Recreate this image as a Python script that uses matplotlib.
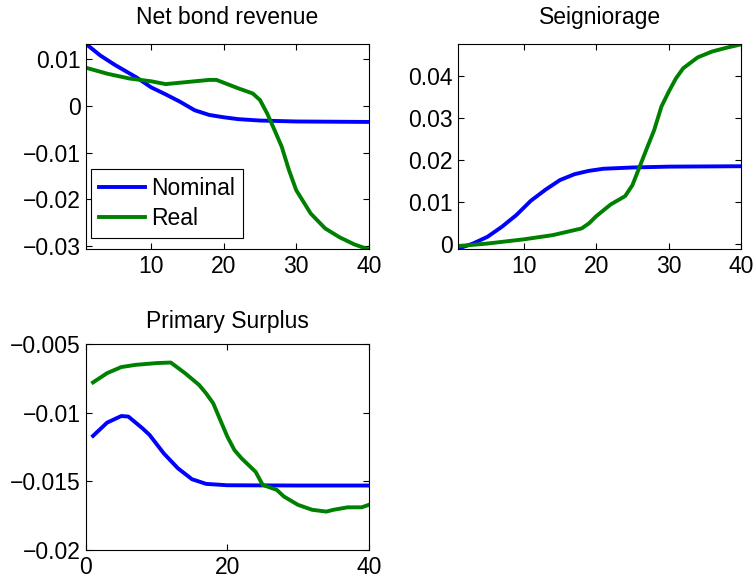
import numpy as np
import matplotlib.pyplot as plt

plt.rcParams['font.family'] = ['Liberation Sans', 'DejaVu Sans']
fs = 16.5

#################################################################
### RESPONSES (quarters after the shock)

# Net bond revenue
nbr_nom_x = [1, 3, 5, 8, 10, 12, 14, 16, 18, 20, 22, 25, 30, 40]
nbr_nom_y = [0.0133, 0.0108, 0.0088, 0.0061, 0.0040, 0.0025, 0.0009, -0.0009,
             -0.0019, -0.0024, -0.0028, -0.0031, -0.0033, -0.0034]
nbr_real_x = [1, 4, 7, 10, 12, 14, 16, 18, 19, 20, 22, 24, 25, 26, 27, 28, 29,
              30, 32, 34, 36, 38, 40]
nbr_real_y = [0.0082, 0.0069, 0.0059, 0.0053, 0.0047, 0.0050, 0.0053, 0.0056,
              0.0056, 0.0050, 0.0038, 0.0027, 0.0013, -0.0016, -0.0051, -0.0087,
              -0.0137, -0.0180, -0.0230, -0.0262, -0.0281, -0.0296, -0.0307]

# Seigniorage
sei_nom_x = [1, 3, 5, 7, 9, 11, 13, 15, 17, 19, 21, 25, 30, 40]
sei_nom_y = [-0.0010, 0.0002, 0.0018, 0.0042, 0.0070, 0.0104, 0.0130, 0.0153,
             0.0167, 0.0175, 0.0180, 0.0183, 0.0185, 0.0186]
sei_real_x = [1, 5, 10, 14, 18, 19, 20, 22, 24, 25, 26, 27, 28, 29, 30, 31, 32,
              34, 36, 38, 40]
sei_real_y = [-0.0004, 0.0002, 0.0012, 0.0022, 0.0038, 0.0050, 0.0067, 0.0095,
              0.0115, 0.0141, 0.0185, 0.0229, 0.0272, 0.0328, 0.0363, 0.0395,
              0.0419, 0.0445, 0.0459, 0.0468, 0.0476]

# Primary surplus
ps_nom_x = [1, 3, 5, 6, 8, 9, 11, 13, 15, 17, 20, 30, 40]
ps_nom_y = [-0.01168, -0.01071, -0.01023, -0.01027, -0.01113, -0.01161,
            -0.01295, -0.01404, -0.01484, -0.01518, -0.01528, -0.01530, -0.01530]
ps_real_x = [1, 3, 5, 7, 10, 12, 14, 16, 17, 18, 19, 20, 21, 22, 24, 25, 27, 28,
             30, 32, 34, 35, 37, 39, 40]
ps_real_y = [-0.00778, -0.00710, -0.00666, -0.00650, -0.00637, -0.00633,
             -0.00710, -0.00796, -0.00858, -0.00930, -0.01052, -0.01173,
             -0.01271, -0.01331, -0.01430, -0.01525, -0.01562, -0.01610,
             -0.01671, -0.01707, -0.01720, -0.01707, -0.01689, -0.01689, -0.01671]

#################################################################
### FIGURE

blue = (0, 0, 1)
green = (0, 0.5, 0)
lw = 2.8

fig = plt.figure(figsize=(7.54, 5.81), dpi=100)
ax1 = fig.add_axes([0.114, 0.5714, 0.375, 0.353])
ax2 = fig.add_axes([0.608, 0.5714, 0.375, 0.353])
ax3 = fig.add_axes([0.114, 0.0534, 0.375, 0.354])

def matlab_style(ax):
    ax.tick_params(direction='in', top=True, right=True, length=4,
                   width=0.8, labelsize=fs, pad=4)
    for s in ax.spines.values():
        s.set_linewidth(0.8)

ax1.plot(nbr_nom_x, nbr_nom_y, color=blue, lw=lw, label='Nominal')
ax1.plot(nbr_real_x, nbr_real_y, color=green, lw=lw, label='Real')
ax1.set_xlim(1, 40)
ax1.set_ylim(-0.0306, 0.0133)
ax1.set_xticks([10, 20, 30, 40])
ax1.set_yticks([-0.03, -0.02, -0.01, 0, 0.01])
ax1.set_yticklabels(['\u22120.03', '\u22120.02', '\u22120.01', '0', '0.01'])
ax1.set_title('Net bond revenue', fontsize=fs, pad=14)
leg = ax1.legend(loc='lower left', bbox_to_anchor=(0.017, 0.054),
                 borderaxespad=0, fancybox=False, edgecolor='black',
                 framealpha=1, fontsize=fs, handlelength=2.0,
                 labelspacing=0.3, borderpad=0.35, handletextpad=0.3)
leg.get_frame().set_linewidth(0.8)
matlab_style(ax1)

ax2.plot(sei_nom_x, sei_nom_y, color=blue, lw=lw)
ax2.plot(sei_real_x, sei_real_y, color=green, lw=lw)
ax2.set_xlim(1, 40)
ax2.set_ylim(-0.0011, 0.0477)
ax2.set_xticks([10, 20, 30, 40])
ax2.set_yticks([0, 0.01, 0.02, 0.03, 0.04])
ax2.set_yticklabels(['0', '0.01', '0.02', '0.03', '0.04'])
ax2.set_title('Seigniorage', fontsize=fs, pad=14)
matlab_style(ax2)

ax3.plot(ps_nom_x, ps_nom_y, color=blue, lw=lw)
ax3.plot(ps_real_x, ps_real_y, color=green, lw=lw)
ax3.set_xlim(0, 40)
ax3.set_ylim(-0.02, -0.005)
ax3.set_xticks([0, 20, 40])
ax3.set_yticks([-0.02, -0.015, -0.01, -0.005])
ax3.set_yticklabels(['\u22120.02', '\u22120.015', '\u22120.01', '\u22120.005'])
ax3.set_title('Primary Surplus', fontsize=fs, pad=12)
matlab_style(ax3)

fig.savefig('out.png', dpi=100)
